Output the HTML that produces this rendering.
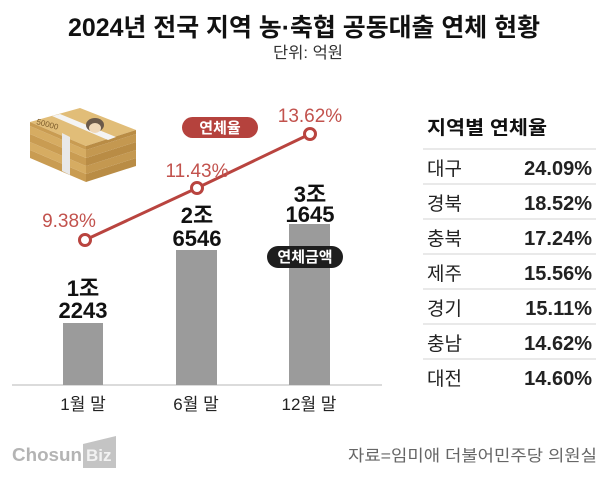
<!DOCTYPE html>
<html><head><meta charset="utf-8">
<style>
html,body{margin:0;padding:0;background:#fff;}
svg{display:block;}
text{font-family:"Liberation Sans","Noto Sans CJK KR",sans-serif;}
.k{font-family:"Noto Sans CJK KR","Liberation Sans",sans-serif;}
</style></head>
<body>
<svg width="616" height="482" viewBox="0 0 616 482" xmlns="http://www.w3.org/2000/svg">
<rect width="616" height="482" fill="#fff"/>
<!-- title -->
<text x="68" y="36" font-size="25" font-weight="700" fill="#111" textLength="472" lengthAdjust="spacingAndGlyphs">2024년 전국 지역 농·축협 공동대출 연체 현황</text>
<text x="273" y="58" font-size="16" fill="#333" textLength="70" lengthAdjust="spacingAndGlyphs">단위: 억원</text>

<!-- money stack -->
<g>
  <polygon points="30,150 86,174 86,182 30,158" fill="#c99c52"/>
  <polygon points="86,174 136,158 136,166 86,182" fill="#b98c45"/>
  <polygon points="30,142 86,166 86,174 30,150" fill="#d6ac62"/>
  <polygon points="86,166 136,150 136,158 86,174" fill="#c49850"/>
  <polygon points="30,134 86,158 86,166 30,142" fill="#c99c52"/>
  <polygon points="86,158 136,142 136,150 86,166" fill="#b98c45"/>
  <polygon points="30,126 86,150 86,158 30,134" fill="#d6ac62"/>
  <polygon points="86,150 136,134 136,142 86,158" fill="#c49850"/>
  <polygon points="30,122 80,108 136,130 86,146" fill="#e1bd78"/>
  <polygon points="30,122 86,146 86,150 30,126" fill="#c99c52"/>
  <polygon points="86,146 136,130 136,134 86,150" fill="#b98c45"/>
  <polygon points="52,116 60,114 116,137 108,140" fill="#f4f4f4"/>
  <polygon points="52,116 60,114 60,170 52,166" fill="#eeeeee" opacity="0.0"/>
  <polygon points="62,133 70,137 70,175 62,171" fill="#e8e8e8"/>
  <ellipse cx="95" cy="125" rx="9" ry="7" fill="#6b5a4a"/>
  <ellipse cx="95" cy="128" rx="6" ry="5" fill="#f0d8b8"/>
  <text x="36" y="124" font-size="8" fill="#7a5a2a" transform="rotate(15 36 124)">50000</text>
</g>

<!-- axis -->
<line x1="12" y1="385" x2="382" y2="385" stroke="#cfcfcf" stroke-width="1.5"/>

<!-- bars -->
<rect x="63" y="323" width="40" height="62" fill="#9b9b9b"/>
<rect x="176" y="250" width="41" height="135" fill="#9b9b9b"/>
<rect x="289" y="224" width="41" height="161" fill="#9b9b9b"/>

<!-- bar labels -->
<g font-size="22" font-weight="700" fill="#111" text-anchor="middle">
  <text x="83" y="296">1조</text>
  <text x="83" y="318">2243</text>
  <text x="197" y="223">2조</text>
  <text x="197" y="246">6546</text>
  <text x="310" y="202">3조</text>
  <text x="310" y="222">1645</text>
</g>

<!-- pills -->
<rect x="182" y="117" width="76" height="21" rx="10.5" fill="#b5423d"/>
<text x="220" y="133" font-size="15" font-weight="700" fill="#fff" text-anchor="middle">연체율</text>
<rect x="267" y="246" width="76" height="22" rx="11" fill="#1e1e1e"/>
<text x="305" y="262" font-size="15" font-weight="700" fill="#fff" text-anchor="middle">연체금액</text>

<!-- line -->
<polyline points="85,240 197,188 310,134" fill="none" stroke="#b9443f" stroke-width="3"/>
<g fill="#fff" stroke="#b9443f" stroke-width="3">
  <circle cx="85" cy="240" r="5.5"/>
  <circle cx="197" cy="188" r="5.5"/>
  <circle cx="310" cy="134" r="5.5"/>
</g>
<g font-size="19" fill="#c2524d" text-anchor="middle">
  <text x="69" y="227">9.38%</text>
  <text x="197" y="177">11.43%</text>
  <text x="310" y="122">13.62%</text>
</g>

<!-- category labels -->
<g font-size="17" fill="#222" text-anchor="middle">
  <text x="83" y="410">1월 말</text>
  <text x="196" y="410">6월 말</text>
  <text x="309" y="410">12월 말</text>
</g>

<!-- table -->
<text x="427" y="134" font-size="19" font-weight="700" fill="#111" textLength="120" lengthAdjust="spacingAndGlyphs">지역별 연체율</text>
<g stroke="#dcdcdc" stroke-width="1.2">
  <line x1="423" y1="149" x2="596" y2="149"/>
  <line x1="423" y1="184" x2="596" y2="184"/>
  <line x1="423" y1="219" x2="596" y2="219"/>
  <line x1="423" y1="254" x2="596" y2="254"/>
  <line x1="423" y1="289" x2="596" y2="289"/>
  <line x1="423" y1="324" x2="596" y2="324"/>
  <line x1="423" y1="359" x2="596" y2="359"/>
</g>
<g font-size="19" fill="#222">
  <text x="427" y="175">대구</text>
  <text x="427" y="210">경북</text>
  <text x="427" y="245">충북</text>
  <text x="427" y="280">제주</text>
  <text x="427" y="315">경기</text>
  <text x="427" y="350">충남</text>
  <text x="427" y="385">대전</text>
</g>
<g font-size="20" font-weight="700" fill="#222" text-anchor="end">
  <text x="592" y="175">24.09%</text>
  <text x="592" y="210">18.52%</text>
  <text x="592" y="245">17.24%</text>
  <text x="592" y="280">15.56%</text>
  <text x="592" y="315">15.11%</text>
  <text x="592" y="350">14.62%</text>
  <text x="592" y="385">14.60%</text>
</g>

<!-- logo -->
<text x="12" y="461" font-size="18" font-weight="700" fill="#b4b4b4" textLength="70" lengthAdjust="spacingAndGlyphs">Chosun</text>
<polygon points="83,444 116,436 116,468 83,468" fill="#c4c4c4"/>
<text x="86" y="461" font-size="17" font-weight="700" fill="#f2f2f2">Biz</text>

<!-- source -->
<text x="348" y="461" font-size="16" fill="#666" textLength="249" lengthAdjust="spacingAndGlyphs">자료=임미애 더불어민주당 의원실</text>
</svg>
</body></html>
